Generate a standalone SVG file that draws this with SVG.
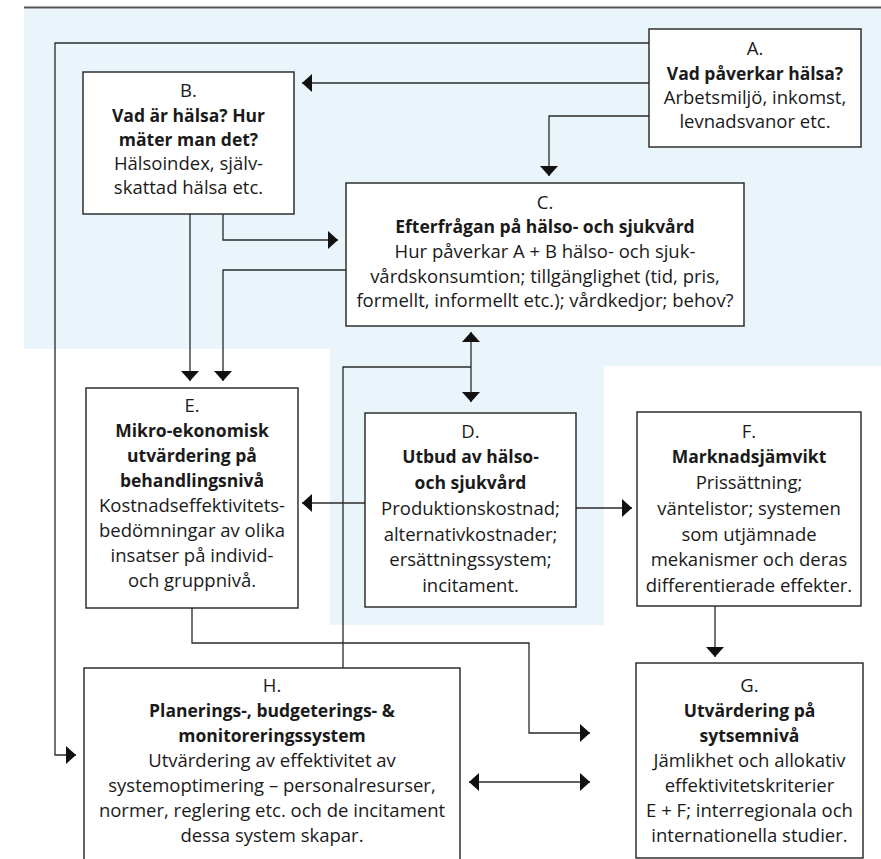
<svg xmlns="http://www.w3.org/2000/svg" width="881" height="859" viewBox="0 0 881 859">
<defs>
<marker id="ah" markerUnits="userSpaceOnUse" markerWidth="12" markerHeight="20" viewBox="0 -10 12 20" refX="10" refY="0" orient="auto-start-reverse">
<path d="M0,-9 L10,0 L0,9 Z" fill="#111"/>
</marker>
<style>
.box{fill:#fff;stroke:#222;stroke-width:1.4}
.t{font-family:"Open Sans","Noto Sans","Liberation Sans",sans-serif;font-size:18.5px;fill:#1a1a1a;text-anchor:middle}
.b{font-weight:700;font-size:17.5px}
.c{fill:none;stroke:#2a2a2a;stroke-width:1.3}
.ca{fill:none;stroke:#2a2a2a;stroke-width:1.3;marker-end:url(#ah)}
.cd{fill:none;stroke:#2a2a2a;stroke-width:1.3;marker-end:url(#ah);marker-start:url(#ah)}
</style>
</defs>
<path d="M24,9 H881 V366 H604 V625 H330 V349 H24 Z" fill="#e9f4fb"/>
<line x1="24" y1="7.5" x2="881" y2="7.5" stroke="#555" stroke-width="2"/>

<g id="connectors">
<path class="ca" d="M649,43 H55 V755 H76"/>
<path class="ca" d="M649,83 H302"/>
<path class="ca" d="M649,116 H549 V176"/>
<path class="ca" d="M190,214 V381"/>
<path class="ca" d="M223,214 V240 H338"/>
<path class="ca" d="M346,270 H223 V381"/>
<path class="cd" d="M471,332 V402"/>
<path class="c" d="M471,367 H343 V668"/>
<path class="ca" d="M365,503 H302"/>
<path class="ca" d="M576,508 H632"/>
<path class="ca" d="M715,606 V657"/>
<path class="ca" d="M192,608 V643 H529 V733 H590"/>
<path class="cd" d="M469,782 H590"/>
</g>

<g id="A">
<rect class="box" x="649" y="29" width="212" height="118"/>
<text class="t" x="755" y="55">A.</text>
<text class="t b" x="755" y="80">Vad påverkar hälsa?</text>
<text class="t" x="755" y="104">Arbetsmiljö, inkomst,</text>
<text class="t" x="755" y="128">levnadsvanor etc.</text>
</g>

<g id="B">
<rect class="box" x="83" y="72" width="211" height="142"/>
<text class="t" x="188.5" y="97">B.</text>
<text class="t b" x="188.5" y="122">Vad är hälsa? Hur</text>
<text class="t b" x="188.5" y="146">mäter man det?</text>
<text class="t" x="188.5" y="170">Hälsoindex, själv-</text>
<text class="t" x="188.5" y="194">skattad hälsa etc.</text>
</g>

<g id="C">
<rect class="box" x="346" y="183" width="398" height="143"/>
<text class="t" x="545" y="209">C.</text>
<text class="t b" x="545" y="233">Efterfrågan på hälso- och sjukvård</text>
<text class="t" x="545" y="258">Hur påverkar A + B hälso- och sjuk-</text>
<text class="t" x="545" y="283">vårdskonsumtion; tillgänglighet (tid, pris,</text>
<text class="t" x="545" y="307">formellt, informellt etc.); vårdkedjor; behov?</text>
</g>

<g id="D">
<rect class="box" x="365" y="413" width="211" height="194"/>
<text class="t" x="470.5" y="438">D.</text>
<text class="t b" x="470.5" y="463">Utbud av hälso-</text>
<text class="t b" x="470.5" y="489">och sjukvård</text>
<text class="t" x="470.5" y="515">Produktionskostnad;</text>
<text class="t" x="470.5" y="541">alternativkostnader;</text>
<text class="t" x="470.5" y="566">ersättningssystem;</text>
<text class="t" x="470.5" y="592">incitament.</text>
</g>

<g id="E">
<rect class="box" x="86" y="388" width="212" height="220"/>
<text class="t" x="192" y="412">E.</text>
<text class="t b" x="192" y="437">Mikro-ekonomisk</text>
<text class="t b" x="192" y="462">utvärdering på</text>
<text class="t b" x="192" y="487">behandlingsnivå</text>
<text class="t" x="192" y="512">Kostnadseffektivitets-</text>
<text class="t" x="192" y="537">bedömningar av olika</text>
<text class="t" x="192" y="562">insatser på individ-</text>
<text class="t" x="192" y="587">och gruppnivå.</text>
</g>

<g id="F">
<rect class="box" x="637" y="412" width="224" height="194"/>
<text class="t" x="749" y="438">F.</text>
<text class="t b" x="749" y="463">Marknadsjämvikt</text>
<text class="t" x="749" y="489">Prissättning;</text>
<text class="t" x="749" y="515">väntelistor; systemen</text>
<text class="t" x="749" y="541">som utjämnade</text>
<text class="t" x="749" y="566">mekanismer och deras</text>
<text class="t" x="749" y="592">differentierade effekter.</text>
</g>

<g id="G">
<rect class="box" x="636" y="663" width="227" height="195"/>
<text class="t" x="749.5" y="692">G.</text>
<text class="t b" x="749.5" y="717">Utvärdering på</text>
<text class="t b" x="749.5" y="742">sytsemnivå</text>
<text class="t" x="749.5" y="767">Jämlikhet och allokativ</text>
<text class="t" x="749.5" y="792">effektivitetskriterier</text>
<text class="t" x="749.5" y="817">E + F; interregionala och</text>
<text class="t" x="749.5" y="842">internationella studier.</text>
</g>

<g id="H">
<rect class="box" x="84" y="668" width="376" height="210"/>
<text class="t" x="272" y="692">H.</text>
<text class="t b" x="272" y="717">Planerings-, budgeterings- &amp;</text>
<text class="t b" x="272" y="742">monitoreringssystem</text>
<text class="t" x="272" y="767">Utvärdering av effektivitet av</text>
<text class="t" x="272" y="792">systemoptimering – personalresurser,</text>
<text class="t" x="272" y="817">normer, reglering etc. och de incitament</text>
<text class="t" x="272" y="842">dessa system skapar.</text>
</g>
</svg>
